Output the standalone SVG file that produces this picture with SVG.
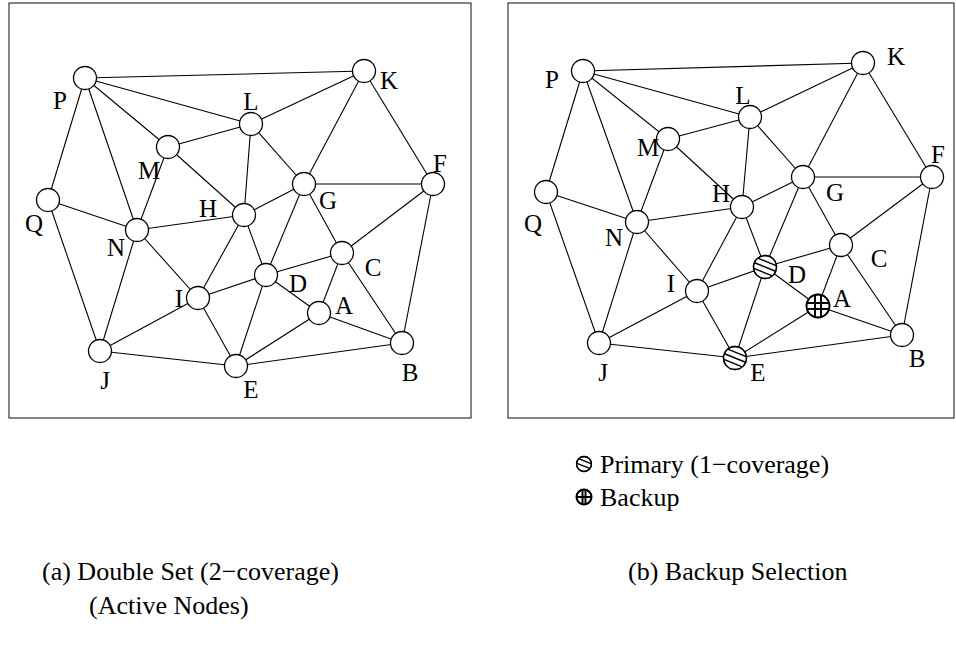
<svg xmlns="http://www.w3.org/2000/svg" xmlns:xlink="http://www.w3.org/1999/xlink" width="956" height="662" viewBox="0 0 956 662">
  <style>
    .frame { fill: none; stroke: #333; stroke-width: 1.2; }
    .edge { stroke: #000; stroke-width: 1.1; fill: none; }
    .node { fill: #fff; stroke: #000; stroke-width: 1.3; }
    .hatch { stroke: #000; stroke-width: 1.4; }
    .grid { stroke: #000; stroke-width: 2; }
    .lbl { font-family: "Liberation Serif", "Times New Roman", serif; font-size: 25px; fill: #000; text-anchor: middle; }
    .cap { font-family: "Liberation Serif", "Times New Roman", serif; font-size: 26px; fill: #000; }
  </style>
  <defs>
    <clipPath id="clipNode"><circle cx="0" cy="0" r="11.5"/></clipPath>
    <clipPath id="clipSmall"><circle cx="0" cy="0" r="7.5"/></clipPath>
    <g id="plain"><circle class="node" cx="0" cy="0" r="11.5"/></g>
    <g id="primary">
      <circle class="node" cx="0" cy="0" r="11.5"/>
      <g clip-path="url(#clipNode)">
        <g transform="rotate(22)">
          <line class="hatch" x1="-12" y1="-5.5" x2="12" y2="-5.5"/>
          <line class="hatch" x1="-12" y1="0" x2="12" y2="0"/>
          <line class="hatch" x1="-12" y1="5.5" x2="12" y2="5.5"/>
        </g>
      </g>
      <circle cx="0" cy="0" r="11.5" fill="none" stroke="#000" stroke-width="1.3"/>
    </g>
    <g id="backup">
      <circle class="node" cx="0" cy="0" r="11.5"/>
      <g clip-path="url(#clipNode)">
        <line class="grid" x1="-3" y1="-12" x2="-3" y2="12"/>
        <line class="grid" x1="3" y1="-12" x2="3" y2="12"/>
        <line class="grid" x1="-12" y1="-3" x2="12" y2="-3"/>
        <line class="grid" x1="-12" y1="3" x2="12" y2="3"/>
      </g>
      <circle cx="0" cy="0" r="11.5" fill="none" stroke="#000" stroke-width="1.8"/>
    </g>
    <g id="primarySmall">
      <circle class="node" cx="0" cy="0" r="7.5"/>
      <g clip-path="url(#clipSmall)">
        <g transform="rotate(22)">
          <line class="hatch" x1="-9" y1="-3" x2="9" y2="-3" stroke-width="1.1"/>
          <line class="hatch" x1="-9" y1="2" x2="9" y2="2" stroke-width="1.1"/>
        </g>
      </g>
      <circle cx="0" cy="0" r="7.5" fill="none" stroke="#000" stroke-width="1.3"/>
    </g>
    <g id="backupSmall">
      <circle class="node" cx="0" cy="0" r="7.5"/>
      <g clip-path="url(#clipSmall)">
        <line class="grid" x1="-1.5" y1="-9" x2="-1.5" y2="9" stroke-width="1.6"/>
        <line class="grid" x1="1.5" y1="-9" x2="1.5" y2="9" stroke-width="1.6"/>
        <line class="grid" x1="-9" y1="0" x2="9" y2="0" stroke-width="1.8"/>
      </g>
      <circle cx="0" cy="0" r="7.5" fill="none" stroke="#000" stroke-width="2"/>
    </g>
  </defs>

  <!-- panel frames -->
  <rect class="frame" x="9" y="3" width="462" height="415"/>
  <rect class="frame" x="508" y="3" width="446" height="415"/>

  <!-- (a) double set: connectors -->
  <g id="edges-a">
    <line class="edge" x1="85" y1="78" x2="364" y2="71"/>
    <line class="edge" x1="85" y1="78" x2="251" y2="124"/>
    <line class="edge" x1="85" y1="78" x2="168" y2="147"/>
    <line class="edge" x1="85" y1="78" x2="137" y2="230"/>
    <line class="edge" x1="85" y1="78" x2="48" y2="200"/>
    <line class="edge" x1="364" y1="71" x2="251" y2="124"/>
    <line class="edge" x1="364" y1="71" x2="304" y2="184"/>
    <line class="edge" x1="364" y1="71" x2="433" y2="184"/>
    <line class="edge" x1="251" y1="124" x2="168" y2="147"/>
    <line class="edge" x1="251" y1="124" x2="244" y2="215"/>
    <line class="edge" x1="251" y1="124" x2="304" y2="184"/>
    <line class="edge" x1="168" y1="147" x2="137" y2="230"/>
    <line class="edge" x1="168" y1="147" x2="244" y2="215"/>
    <line class="edge" x1="48" y1="200" x2="137" y2="230"/>
    <line class="edge" x1="48" y1="200" x2="100" y2="351"/>
    <line class="edge" x1="137" y1="230" x2="244" y2="215"/>
    <line class="edge" x1="137" y1="230" x2="198" y2="298"/>
    <line class="edge" x1="137" y1="230" x2="100" y2="351"/>
    <line class="edge" x1="244" y1="215" x2="304" y2="184"/>
    <line class="edge" x1="244" y1="215" x2="198" y2="298"/>
    <line class="edge" x1="244" y1="215" x2="266" y2="275"/>
    <line class="edge" x1="304" y1="184" x2="433" y2="184"/>
    <line class="edge" x1="304" y1="184" x2="266" y2="275"/>
    <line class="edge" x1="304" y1="184" x2="342" y2="253"/>
    <line class="edge" x1="433" y1="184" x2="342" y2="253"/>
    <line class="edge" x1="433" y1="184" x2="402" y2="343"/>
    <line class="edge" x1="342" y1="253" x2="266" y2="275"/>
    <line class="edge" x1="342" y1="253" x2="319" y2="313"/>
    <line class="edge" x1="342" y1="253" x2="402" y2="343"/>
    <line class="edge" x1="266" y1="275" x2="198" y2="298"/>
    <line class="edge" x1="266" y1="275" x2="236" y2="366"/>
    <line class="edge" x1="266" y1="275" x2="319" y2="313"/>
    <line class="edge" x1="198" y1="298" x2="100" y2="351"/>
    <line class="edge" x1="198" y1="298" x2="236" y2="366"/>
    <line class="edge" x1="319" y1="313" x2="236" y2="366"/>
    <line class="edge" x1="319" y1="313" x2="402" y2="343"/>
    <line class="edge" x1="100" y1="351" x2="236" y2="366"/>
    <line class="edge" x1="236" y1="366" x2="402" y2="343"/>
  </g>

  <!-- (a) double set: nodes -->
  <g id="a-P"><use xlink:href="#plain" x="85" y="78"/><text class="lbl" x="60" y="109">P</text></g>
  <g id="a-K"><use xlink:href="#plain" x="364" y="71"/><text class="lbl" x="389" y="89">K</text></g>
  <g id="a-L"><use xlink:href="#plain" x="251" y="124"/><text class="lbl" x="251" y="110">L</text></g>
  <g id="a-M"><use xlink:href="#plain" x="168" y="147"/><text class="lbl" x="149" y="179">M</text></g>
  <g id="a-Q"><use xlink:href="#plain" x="48" y="200"/><text class="lbl" x="34" y="232">Q</text></g>
  <g id="a-N"><use xlink:href="#plain" x="137" y="230"/><text class="lbl" x="116" y="256">N</text></g>
  <g id="a-H"><use xlink:href="#plain" x="244" y="215"/><text class="lbl" x="208" y="217">H</text></g>
  <g id="a-G"><use xlink:href="#plain" x="304" y="184"/><text class="lbl" x="328" y="209">G</text></g>
  <g id="a-F"><use xlink:href="#plain" x="433" y="184"/><text class="lbl" x="440" y="172">F</text></g>
  <g id="a-C"><use xlink:href="#plain" x="342" y="253"/><text class="lbl" x="373" y="276">C</text></g>
  <g id="a-D"><use xlink:href="#plain" x="266" y="275"/><text class="lbl" x="298" y="292">D</text></g>
  <g id="a-I"><use xlink:href="#plain" x="198" y="298"/><text class="lbl" x="179" y="307">I</text></g>
  <g id="a-A"><use xlink:href="#plain" x="319" y="313"/><text class="lbl" x="344" y="314">A</text></g>
  <g id="a-J"><use xlink:href="#plain" x="100" y="351"/><text class="lbl" x="105" y="389">J</text></g>
  <g id="a-E"><use xlink:href="#plain" x="236" y="366"/><text class="lbl" x="251" y="398">E</text></g>
  <g id="a-B"><use xlink:href="#plain" x="402" y="343"/><text class="lbl" x="410" y="381">B</text></g>

  <!-- (b) backup selection: connectors -->
  <g id="edges-b">
    <line class="edge" x1="583" y1="71" x2="863" y2="63"/>
    <line class="edge" x1="583" y1="71" x2="750" y2="117"/>
    <line class="edge" x1="583" y1="71" x2="668" y2="139"/>
    <line class="edge" x1="583" y1="71" x2="637" y2="222"/>
    <line class="edge" x1="583" y1="71" x2="546" y2="192"/>
    <line class="edge" x1="863" y1="63" x2="750" y2="117"/>
    <line class="edge" x1="863" y1="63" x2="803" y2="177"/>
    <line class="edge" x1="863" y1="63" x2="932" y2="177"/>
    <line class="edge" x1="750" y1="117" x2="668" y2="139"/>
    <line class="edge" x1="750" y1="117" x2="742" y2="207"/>
    <line class="edge" x1="750" y1="117" x2="803" y2="177"/>
    <line class="edge" x1="668" y1="139" x2="637" y2="222"/>
    <line class="edge" x1="668" y1="139" x2="742" y2="207"/>
    <line class="edge" x1="546" y1="192" x2="637" y2="222"/>
    <line class="edge" x1="546" y1="192" x2="599" y2="343"/>
    <line class="edge" x1="637" y1="222" x2="742" y2="207"/>
    <line class="edge" x1="637" y1="222" x2="697" y2="291"/>
    <line class="edge" x1="637" y1="222" x2="599" y2="343"/>
    <line class="edge" x1="742" y1="207" x2="803" y2="177"/>
    <line class="edge" x1="742" y1="207" x2="697" y2="291"/>
    <line class="edge" x1="742" y1="207" x2="765" y2="267"/>
    <line class="edge" x1="803" y1="177" x2="932" y2="177"/>
    <line class="edge" x1="803" y1="177" x2="765" y2="267"/>
    <line class="edge" x1="803" y1="177" x2="841" y2="245"/>
    <line class="edge" x1="932" y1="177" x2="841" y2="245"/>
    <line class="edge" x1="932" y1="177" x2="902" y2="335"/>
    <line class="edge" x1="841" y1="245" x2="765" y2="267"/>
    <line class="edge" x1="841" y1="245" x2="818" y2="306"/>
    <line class="edge" x1="841" y1="245" x2="902" y2="335"/>
    <line class="edge" x1="765" y1="267" x2="697" y2="291"/>
    <line class="edge" x1="765" y1="267" x2="735" y2="358"/>
    <line class="edge" x1="765" y1="267" x2="818" y2="306"/>
    <line class="edge" x1="697" y1="291" x2="599" y2="343"/>
    <line class="edge" x1="697" y1="291" x2="735" y2="358"/>
    <line class="edge" x1="818" y1="306" x2="735" y2="358"/>
    <line class="edge" x1="818" y1="306" x2="902" y2="335"/>
    <line class="edge" x1="599" y1="343" x2="735" y2="358"/>
    <line class="edge" x1="735" y1="358" x2="902" y2="335"/>
  </g>

  <!-- (b) backup selection: nodes -->
  <g id="b-P"><use xlink:href="#plain" x="583" y="71"/><text class="lbl" x="552" y="88">P</text></g>
  <g id="b-K"><use xlink:href="#plain" x="863" y="63"/><text class="lbl" x="896" y="65">K</text></g>
  <g id="b-L"><use xlink:href="#plain" x="750" y="117"/><text class="lbl" x="743" y="104">L</text></g>
  <g id="b-M"><use xlink:href="#plain" x="668" y="139"/><text class="lbl" x="648" y="156">M</text></g>
  <g id="b-Q"><use xlink:href="#plain" x="546" y="192"/><text class="lbl" x="533" y="232">Q</text></g>
  <g id="b-N"><use xlink:href="#plain" x="637" y="222"/><text class="lbl" x="614" y="246">N</text></g>
  <g id="b-H"><use xlink:href="#plain" x="742" y="207"/><text class="lbl" x="721" y="202">H</text></g>
  <g id="b-G"><use xlink:href="#plain" x="803" y="177"/><text class="lbl" x="835" y="201">G</text></g>
  <g id="b-F"><use xlink:href="#plain" x="932" y="177"/><text class="lbl" x="938" y="163">F</text></g>
  <g id="b-C"><use xlink:href="#plain" x="841" y="245"/><text class="lbl" x="879" y="267">C</text></g>
  <g id="b-D"><use xlink:href="#primary" x="765" y="267"/><text class="lbl" x="797" y="283">D</text></g>
  <g id="b-I"><use xlink:href="#plain" x="697" y="291"/><text class="lbl" x="671" y="292">I</text></g>
  <g id="b-A"><use xlink:href="#backup" x="818" y="306"/><text class="lbl" x="842" y="307">A</text></g>
  <g id="b-J"><use xlink:href="#plain" x="599" y="343"/><text class="lbl" x="603" y="381">J</text></g>
  <g id="b-E"><use xlink:href="#primary" x="735" y="358"/><text class="lbl" x="758" y="381">E</text></g>
  <g id="b-B"><use xlink:href="#plain" x="902" y="335"/><text class="lbl" x="917" y="367">B</text></g>

  <!-- legend -->
  <g id="legend">
    <use xlink:href="#primarySmall" x="584" y="464"/>
    <text class="cap" x="600" y="473">Primary (1−coverage)</text>
    <use xlink:href="#backupSmall" x="584" y="497"/>
    <text class="cap" x="600" y="506">Backup</text>
  </g>

  <!-- captions -->
  <g id="captions">
    <text class="cap" x="42" y="580">(a) Double Set (2−coverage)</text>
    <text class="cap" x="89" y="614">(Active Nodes)</text>
    <text class="cap" x="628" y="580">(b) Backup Selection</text>
  </g>
</svg>
